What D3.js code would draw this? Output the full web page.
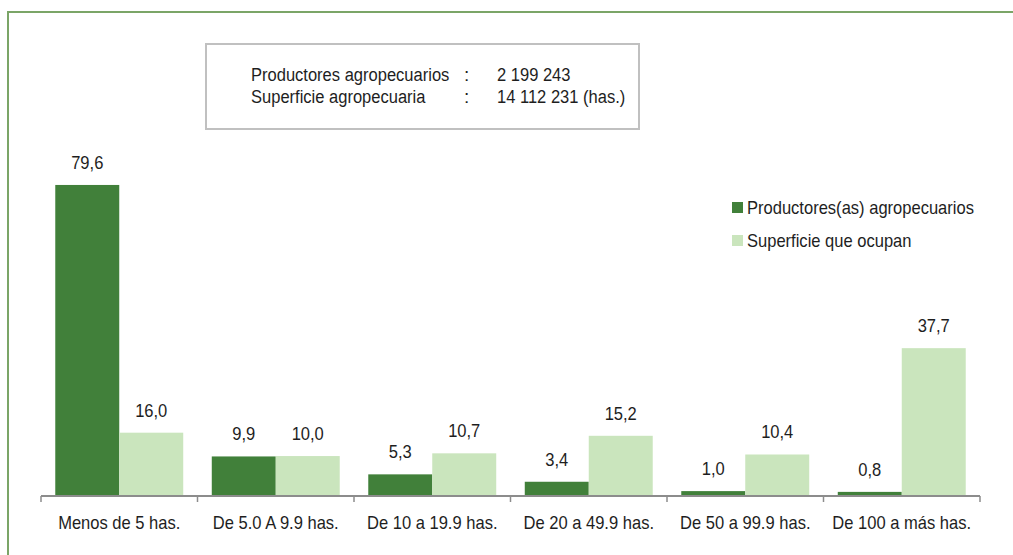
<!DOCTYPE html>
<html>
<head>
<meta charset="utf-8">
<script src="https://cdn.jsdelivr.net/npm/d3@7"></script>
<style>
  body { margin: 0; background: #fff; }
  svg text { font-family: "Liberation Sans", Arial, sans-serif; fill: #1e1e1e; }
</style>
</head>
<body>
<svg id="chart" width="1013" height="555"></svg>
<script>
// data
var categories = ["Menos de 5 has.", "De 5.0 A 9.9 has.", "De 10 a 19.9 has.", "De 20 a 49.9 has.", "De 50 a 99.9 has.", "De 100 a más has."];
var seriesNames = ["Productores(as) agropecuarios", "Superficie que ocupan"];
var productores = [79.6, 9.9, 5.3, 3.4, 1.0, 0.8];
var superficie = [16.0, 10.0, 10.7, 15.2, 10.4, 37.7];
var infoLabels = ["Productores agropecuarios", "Superficie agropecuaria"];
var infoValues = ["2 199 243", "14 112 231 (has.)"];

var colors = ["#41803a", "#cae5bd"];
var fs = 19, squeeze = 0.87; // the original font is a bit narrow

var svg = d3.select("#chart");

// squeeze text horizontally to mimic the narrow font
function condense(sel) {
  sel.each(function() {
    var len = this.getComputedTextLength();
    d3.select(this).attr("textLength", len * squeeze).attr("lengthAdjust", "spacingAndGlyphs");
  });
}

// outer frame (only top and left are visible in the picture)
svg.append("rect")
  .attr("x", 8).attr("y", 12)
  .attr("width", 1040).attr("height", 580)
  .attr("fill", "none")
  .attr("stroke", "#7ba567")
  .attr("stroke-width", 2);

var x0 = d3.scaleBand().domain(categories).range([41, 980]).padding(0);
var x1 = d3.scaleBand().domain(seriesNames).range([0, x0.bandwidth()]).paddingInner(0).paddingOuter(0.223);
var y = d3.scaleLinear().domain([0, 80]).range([495, 183.4]);

var rows = categories.map(function(c, i) {
  return {cat: c, vals: [productores[i], superficie[i]]};
});

var fmt = function(v) { return d3.format(".1f")(v).replace(".", ","); };

var g = svg.selectAll("g.cat").data(rows).enter().append("g")
  .attr("class", "cat")
  .attr("transform", function(d) { return "translate(" + x0(d.cat) + ",0)"; });

g.selectAll("rect").data(function(d) { return d.vals.map(function(v, j) { return {s: seriesNames[j], v: v, j: j}; }); })
  .enter().append("rect")
  .attr("x", function(d) { return x1(d.s); })
  .attr("y", function(d) { return y(d.v); })
  .attr("width", x1.bandwidth())
  .attr("height", function(d) { return y(0) - y(d.v); })
  .attr("fill", function(d) { return colors[d.j]; });

g.selectAll("text.val").data(function(d) { return d.vals.map(function(v, j) { return {s: seriesNames[j], v: v}; }); })
  .enter().append("text")
  .attr("class", "val")
  .attr("x", function(d) { return x1(d.s) + x1.bandwidth() / 2; })
  .attr("y", function(d) { return y(d.v) - 16; })
  .attr("text-anchor", "middle")
  .attr("font-size", fs)
  .text(function(d) { return fmt(d.v); })
  .call(condense);

// category axis with ticks on the band edges
var axis = svg.append("g");
axis.append("line")
  .attr("x1", x0.range()[0]).attr("x2", x0.range()[1])
  .attr("y1", 496).attr("y2", 496)
  .attr("stroke", "#8c8c8c").attr("stroke-width", 2);
var edges = categories.map(function(c) { return x0(c); }).concat([x0.range()[1]]);
axis.selectAll("line.tick").data(edges).enter().append("line")
  .attr("class", "tick")
  .attr("x1", function(d) { return d; }).attr("x2", function(d) { return d; })
  .attr("y1", 496).attr("y2", 502)
  .attr("stroke", "#8c8c8c").attr("stroke-width", 1.5);
axis.selectAll("text").data(categories).enter().append("text")
  .attr("x", function(d) { return x0(d) + x0.bandwidth() / 2; })
  .attr("y", 529)
  .attr("text-anchor", "middle")
  .attr("font-size", fs)
  .text(function(d) { return d; })
  .call(condense);

// info box
svg.append("rect")
  .attr("x", 206).attr("y", 44).attr("width", 433).attr("height", 85)
  .attr("fill", "#fff").attr("stroke", "#c0c0c0").attr("stroke-width", 2);
infoLabels.forEach(function(t, i) {
  var yy = 81 + i * 22;
  svg.append("text")
    .attr("transform", "translate(251," + yy + ") scale(" + squeeze + ",1)")
    .attr("font-size", fs).text(t);
  svg.append("text").attr("x", 464).attr("y", yy).attr("font-size", fs).text(":");
  svg.append("text")
    .attr("transform", "translate(497," + yy + ") scale(" + squeeze + ",1)")
    .attr("font-size", fs).text(infoValues[i]);
});

// legend
var leg = svg.selectAll("g.leg").data(seriesNames).enter().append("g")
  .attr("class", "leg")
  .attr("transform", function(d, i) { return "translate(732," + (202 + i * 33) + ")"; });
leg.append("rect").attr("width", 11).attr("height", 11)
  .attr("fill", function(d, i) { return colors[i]; });
leg.append("text").attr("x", 15).attr("y", 11.5).attr("font-size", fs)
  .text(function(d) { return d; })
  .call(condense);
</script>
</body>
</html>
